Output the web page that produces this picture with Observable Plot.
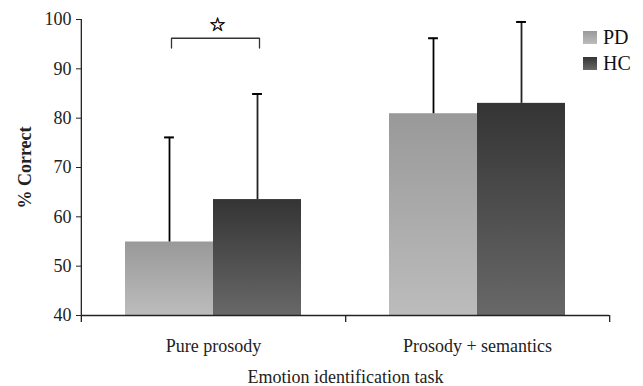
<!DOCTYPE html>
<html><head><meta charset="utf-8">
<script src="https://cdn.jsdelivr.net/npm/d3@7"></script>
<script src="https://cdn.jsdelivr.net/npm/@observablehq/plot@0.6"></script>
<style>
body{margin:0;background:#fff;}
#wrap{position:relative;width:643px;height:386px;}
#legend{position:absolute;left:583px;top:24px;font-family:"Liberation Serif",serif;font-size:20px;color:#111;}
.item{display:flex;align-items:center;height:26px;}
.sw{width:14px;height:13px;margin-right:6px;}
svg [aria-label="y-axis label"] text, svg [aria-label="y-axis label"]{font-weight:bold;}
</style></head><body><div id="wrap"><div id="legend"></div></div>
<script>
// ---- data ----
const tasks = ["Pure prosody", "Prosody + semantics"];
const groups = ["PD", "HC"];
const pdMean = [54.9, 80.9];
const hcMean = [63.5, 83.0];
const pdUpper = [76.1, 96.2];   // mean + SD
const hcUpper = [84.9, 99.5];   // mean + SD
const yTicks = [40, 50, 60, 70, 80, 90, 100];
const sigTask = "Pure prosody";
const bracketLow = 94.2, bracketHigh = 96.2, starY = 99.0;
const gradStops = {PD: ["#999999", "#bcbcbc"], HC: ["#343434", "#686868"]};

const means = {PD: pdMean, HC: hcMean};
const uppers = {PD: pdUpper, HC: hcUpper};
const rows = tasks.flatMap((t, i) => groups.map(g => ({task: t, group: g, mean: means[g][i], upper: uppers[g][i]})));

const NS = "http://www.w3.org/2000/svg";
function gradients() {
  const defs = document.createElementNS(NS, "defs");
  for (const g of groups) {
    const lg = document.createElementNS(NS, "linearGradient");
    lg.setAttribute("id", "grad" + g);
    lg.setAttribute("x1", "0"); lg.setAttribute("y1", "0");
    lg.setAttribute("x2", "0"); lg.setAttribute("y2", "1");
    gradStops[g].forEach((c, k) => {
      const s = document.createElementNS(NS, "stop");
      s.setAttribute("offset", k ? "1" : "0");
      s.setAttribute("stop-color", c);
      lg.appendChild(s);
    });
    defs.appendChild(lg);
  }
  return defs;
}

const step = (643 - 80 - 34) / 2 / 3; // facet width / 3 bands

const chart = Plot.plot({
  width: 643, height: 386,
  marginTop: 19, marginBottom: 71, marginLeft: 80, marginRight: 34,
  style: {fontFamily: "Liberation Serif, serif", fontSize: "18px", color: "#222", background: "#fff"},
  fx: {domain: tasks, padding: 0},
  x: {domain: groups, paddingInner: 0, paddingOuter: 0.5, axis: null},
  y: {domain: [40, 100]},
  marks: [
    gradients,
    Plot.barY(rows, {fx: "task", x: "group", y1: 40, y2: "mean", fill: d => `url(#grad${d.group})`}),
    Plot.ruleX(rows, {fx: "task", x: "group", y1: "mean", y2: "upper", stroke: d => d.group === "PD" ? "#000" : "#222", strokeWidth: 1.8}),
    Plot.tickY(rows, {fx: "task", x: "group", y: "upper", insetLeft: step/2 - 5, insetRight: step/2 - 5, stroke: "#000", strokeWidth: 2}),
    Plot.ruleY([40], {stroke: "#222", strokeWidth: 1.3}),
    Plot.ruleX([groups[1]], {x: d => d, y1: 40, y2: 38.6, dx: step, stroke: "#222", strokeWidth: 1.3}),
    Plot.ruleX([{t: tasks[0], g: groups[0]}], {fx: "t", x: "g", y1: 38.6, y2: 100, dx: -step, stroke: "#222", strokeWidth: 1.3}),
    Plot.line([{g: "PD", y: bracketLow}, {g: "PD", y: bracketHigh}, {g: "HC", y: bracketHigh}, {g: "HC", y: bracketLow}].map(d => ({...d, t: sigTask})),
      {fx: "t", x: "g", y: "y", stroke: "#333", strokeWidth: 1.3, dx: 2}),
    Plot.text([{t: sigTask}], {fx: "t", frameAnchor: "middle", y: () => starY, dx: 4, text: () => "☆", fontFamily: "DejaVu Sans", fontSize: 19, fill: "#000", stroke: "#000", strokeWidth: 0.5}),
    Plot.axisY({ticks: yTicks, tickSize: 5, tickPadding: 5, label: "% Correct", labelAnchor: "center", labelArrow: "none", labelOffset: 63, fill: "#222"}),
    Plot.axisFx({anchor: "bottom", tickSize: 0, tickPadding: 24, label: "Emotion identification task", labelAnchor: "center", labelArrow: "none", labelOffset: 67, fill: "#222"})
  ]
});
document.getElementById("wrap").appendChild(chart);

const legend = document.getElementById("legend");
for (const g of groups) {
  const it = document.createElement("div"); it.className = "item";
  const sw = document.createElement("div"); sw.className = "sw";
  sw.style.background = `linear-gradient(${gradStops[g][0]}, ${gradStops[g][1]})`;
  const lb = document.createElement("span"); lb.textContent = g;
  it.appendChild(sw); it.appendChild(lb); legend.appendChild(it);
}
</script></body></html>
